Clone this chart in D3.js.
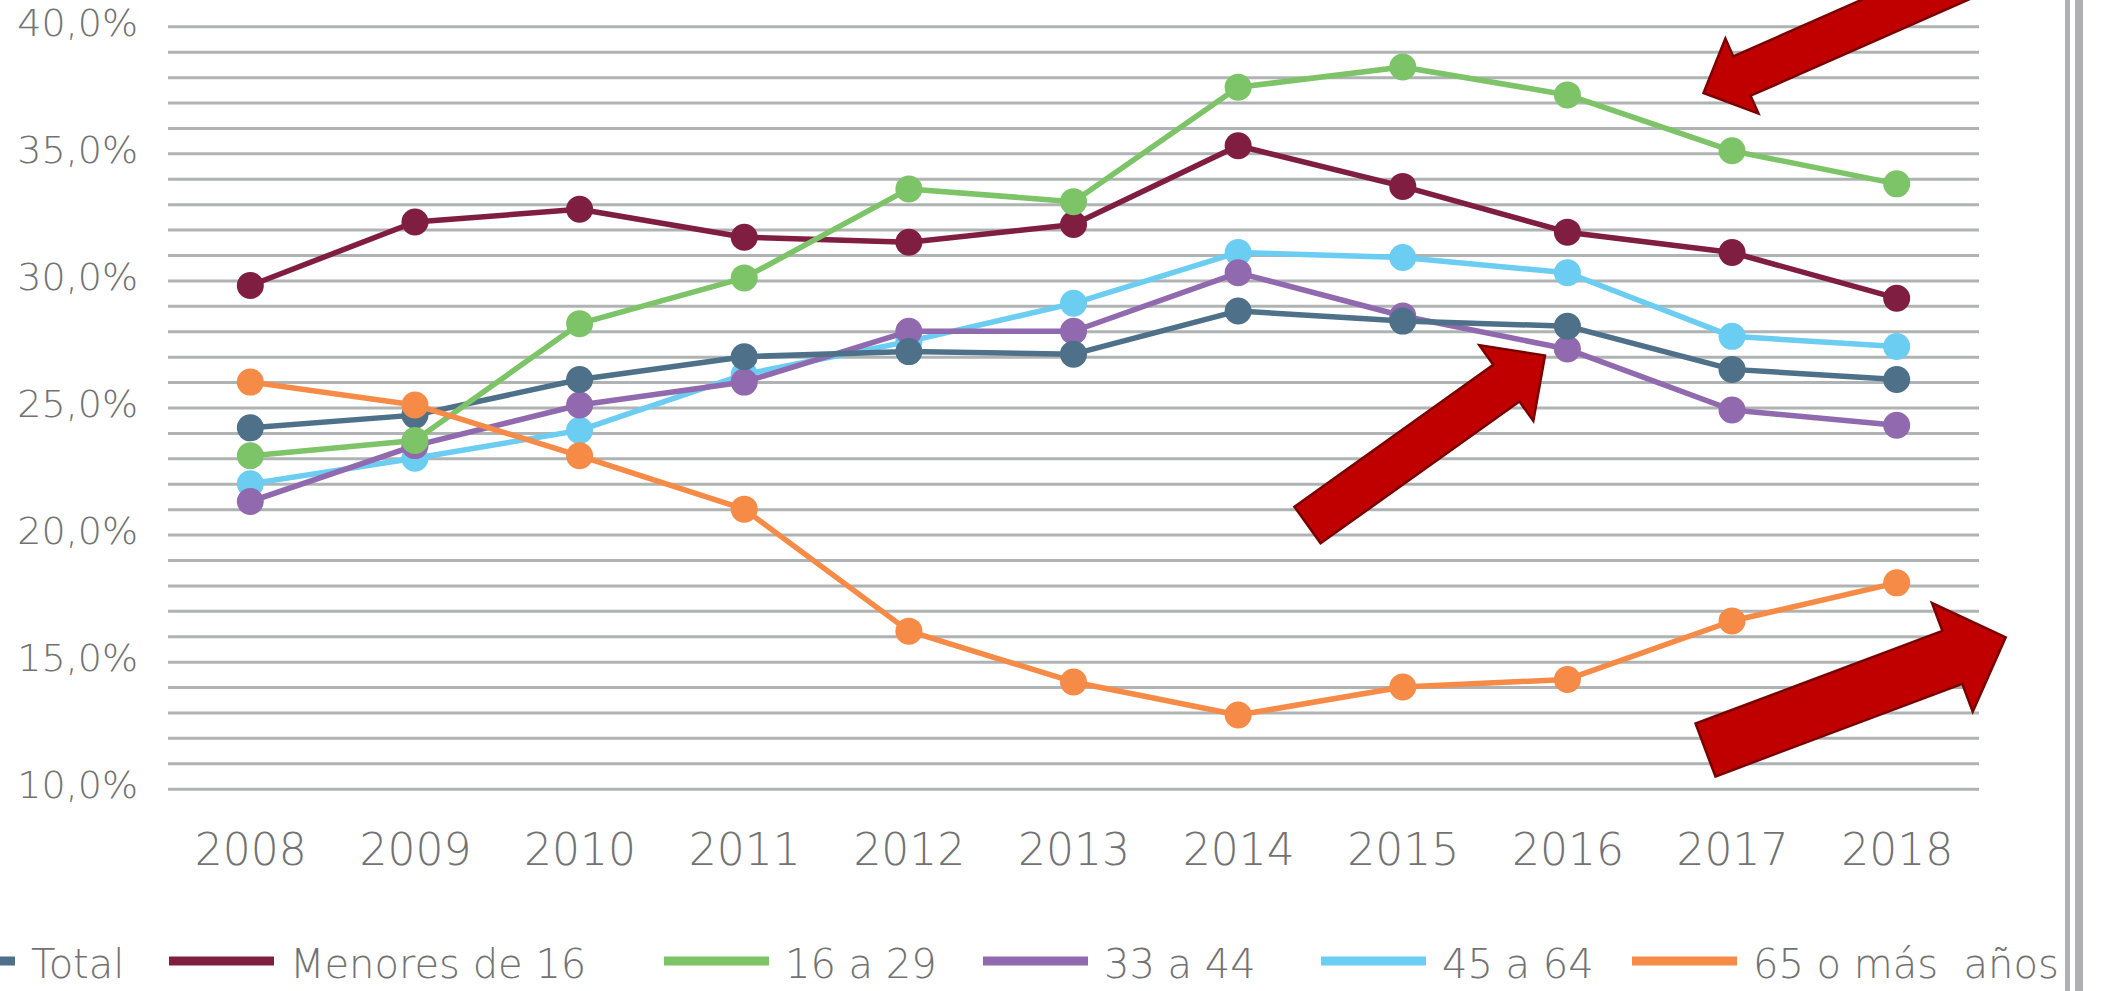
<!DOCTYPE html>
<html>
<head>
<meta charset="utf-8">
<script src="https://cdn.jsdelivr.net/npm/d3@7/dist/d3.min.js"></script>
<style>
  body { margin: 0; background: #fff; }
  svg { display: block; }
  text { font-family: "DejaVu Sans", sans-serif; font-weight: 300; fill: #727272; }
</style>
</head>
<body>
<div id="chart"></div>
<script>
// data (percent)
var years = ["2008", "2009", "2010", "2011", "2012", "2013", "2014", "2015", "2016", "2017", "2018"];
var seriesNames = ["Total", "Menores de 16", "16 a 29", "33 a 44", "45 a 64", "65 o más  años"];
var total     = [24.2, 24.7, 26.1, 27.0, 27.2, 27.1, 28.8, 28.4, 28.2, 26.5, 26.1];
var menores16 = [29.8, 32.3, 32.8, 31.7, 31.5, 32.2, 35.3, 33.7, 31.9, 31.1, 29.3];
var de16a29   = [23.1, 23.7, 28.3, 30.1, 33.6, 33.1, 37.6, 38.4, 37.3, 35.1, 33.8];
var de33a44   = [21.3, 23.5, 25.1, 26.0, 28.0, 28.0, 30.3, 28.6, 27.3, 24.9, 24.3];
var de45a64   = [22.0, 23.0, 24.1, 26.3, 27.6, 29.1, 31.1, 30.9, 30.3, 27.8, 27.4];
var mas65     = [26.0, 25.1, 23.1, 21.0, 16.2, 14.2, 12.9, 14.0, 14.3, 16.6, 18.1];
var yTicks = [10, 15, 20, 25, 30, 35, 40];

var colors = ["#4e7189", "#801e42", "#7dc367", "#9069ae", "#6acdf1", "#f58b46"];
// stacking seen in the picture: light blue lowest, orange on top
var drawOrder = [4, 3, 0, 1, 2, 5];

var width = 2103, height = 991;
var plotLeft = 168, plotRight = 1979, plotTop = 26.3, plotBottom = 788.7;

var svg = d3.select("#chart").append("svg")
    .attr("width", width)
    .attr("height", height);

var x = d3.scalePoint().domain(years).range([plotLeft, plotRight]).padding(0.5);
var y = d3.scaleLinear().domain([10, 40]).range([plotBottom, plotTop]);

var es = d3.formatLocale({decimal: ",", thousands: ".", grouping: [3], currency: ["", " €"]});
var fmt = es.format(".1f");

// gridlines every 1%
var grid = svg.append("g")
    .attr("transform", "translate(" + plotLeft + ",0)")
    .call(d3.axisLeft(y).tickValues(d3.range(10, 41)).tickSize(-(plotRight - plotLeft)).tickFormat(""));
grid.select(".domain").remove();
grid.selectAll(".tick line").attr("stroke", "#b0b3b3").attr("stroke-width", 3);

// y labels
var yAxis = svg.append("g")
    .attr("transform", "translate(" + plotLeft + ",0)")
    .call(d3.axisLeft(y).tickValues(yTicks).tickSize(0).tickPadding(30).tickFormat(function(d) { return fmt(d) + "%"; }));
yAxis.select(".domain").remove();
yAxis.selectAll("text")
    .attr("font-size", 38)
    .attr("font-family", null)
    .attr("fill", null)
    .attr("dy", "0.24em");

// x labels
var xAxis = svg.append("g")
    .attr("transform", "translate(0," + plotBottom + ")")
    .call(d3.axisBottom(x).tickSize(0).tickPadding(45));
xAxis.select(".domain").remove();
xAxis.selectAll("text")
    .attr("font-size", 44)
    .attr("font-family", null)
    .attr("fill", null);

var table = [total, menores16, de16a29, de33a44, de45a64, mas65].map(function(vals, i) {
  return { name: seriesNames[i], color: colors[i], values: vals.map(function(v, j) { return { year: years[j], v: v }; }) };
});

var line = d3.line()
    .x(function(d) { return x(d.year); })
    .y(function(d) { return y(d.v); });

var series = svg.selectAll(".series")
    .data(drawOrder.map(function(i) { return table[i]; }))
    .enter().append("g")
    .attr("class", "series");

series.append("path")
    .attr("d", function(d) { return line(d.values); })
    .attr("fill", "none")
    .attr("stroke", function(d) { return d.color; })
    .attr("stroke-width", 5.5)
    .attr("stroke-linejoin", "round");

series.each(function(s) {
  d3.select(this).selectAll("circle")
    .data(s.values)
    .enter().append("circle")
    .attr("cx", function(d) { return x(d.year); })
    .attr("cy", function(d) { return y(d.v); })
    .attr("r", 13.5)
    .attr("fill", s.color);
});

// red block arrows (annotations, pixel space)
var arrows = [
  { tail: [1996, -36], tip: [1703.5, 93], w: 21.5, hw: 41, hl: 42 },
  { tail: [1307.5, 525], tip: [1545, 355.5], w: 22.5, hw: 46.5, hl: 47.5 },
  { tail: [1705.5, 750], tip: [2005.7, 637.3], w: 28.3, hw: 58, hl: 57 }
];

function arrowPoints(a) {
  var dx = a.tip[0] - a.tail[0], dy = a.tip[1] - a.tail[1];
  var len = Math.sqrt(dx * dx + dy * dy);
  var ux = dx / len, uy = dy / len;
  var nx = -uy, ny = ux;
  var bx = a.tip[0] - ux * a.hl, by = a.tip[1] - uy * a.hl;
  var p = [
    [a.tail[0] + nx * a.w, a.tail[1] + ny * a.w],
    [bx + nx * a.w, by + ny * a.w],
    [bx + nx * a.hw, by + ny * a.hw],
    a.tip,
    [bx - nx * a.hw, by - ny * a.hw],
    [bx - nx * a.w, by - ny * a.w],
    [a.tail[0] - nx * a.w, a.tail[1] - ny * a.w]
  ];
  return p.map(function(q) { return q.join(","); }).join(" ");
}

svg.selectAll(".arrow")
    .data(arrows)
    .enter().append("polygon")
    .attr("class", "arrow")
    .attr("points", arrowPoints)
    .attr("fill", "#c00000")
    .attr("stroke", "#7a0000")
    .attr("stroke-width", 2.5)
    .attr("stroke-linejoin", "miter");

// legend
var legendX = [-90, 169, 664, 983, 1321, 1632];
var legend = svg.selectAll(".legend")
    .data(table)
    .enter().append("g")
    .attr("class", "legend")
    .attr("transform", function(d, i) { return "translate(" + legendX[i] + ",961)"; });

legend.append("line")
    .attr("x1", 0).attr("x2", 105)
    .attr("stroke", function(d) { return d.color; })
    .attr("stroke-width", 9);

legend.append("text")
    .attr("x", 121)
    .attr("y", 17)
    .attr("font-size", 40)
    .style("white-space", "pre")
    .text(function(d) { return d.name; });

// frame on the right edge
svg.append("rect").attr("x", 2065).attr("y", 0).attr("width", 5).attr("height", height).attr("fill", "#aeb1b1");
svg.append("rect").attr("x", 2075).attr("y", 0).attr("width", 8).attr("height", height).attr("fill", "#aeb1b1");
</script>
</body>
</html>
